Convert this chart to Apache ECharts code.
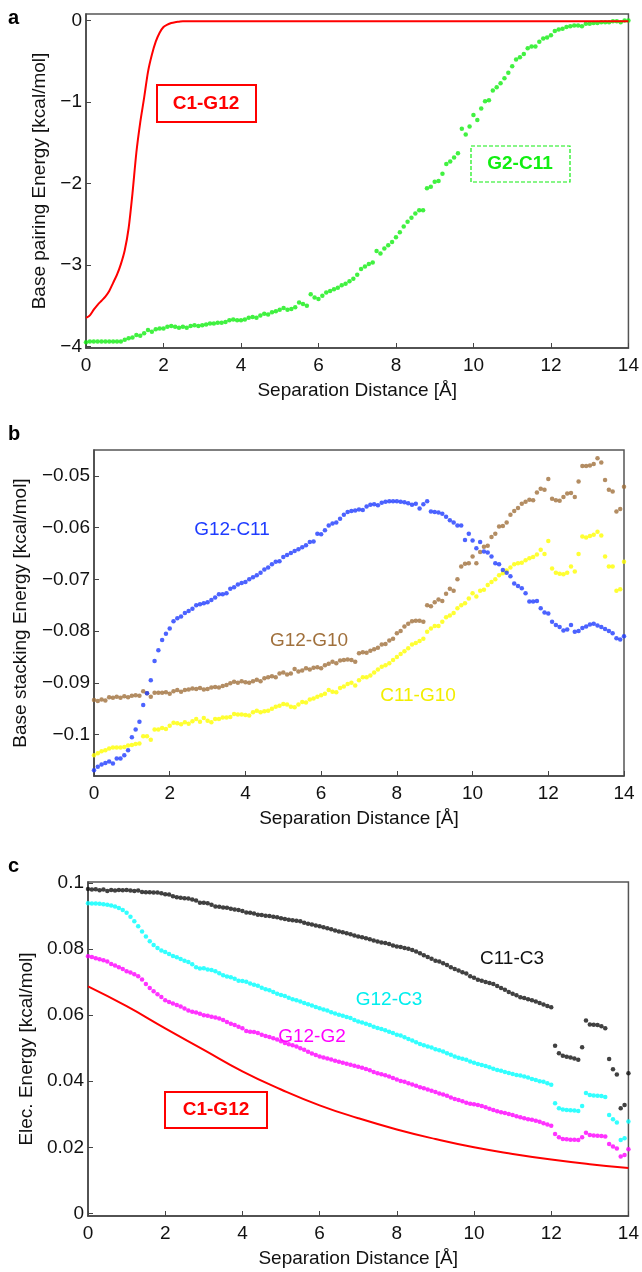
<!DOCTYPE html>
<html>
<head>
<meta charset="utf-8">
<script src="https://cdn.jsdelivr.net/npm/echarts/dist/echarts.min.js"></script>
<style>
  html, body { margin: 0; padding: 0; background: #fff; }
  #chart { width: 642px; height: 1272px; }
</style>
</head>
<body>
<div id="chart"></div>
<script>
// separation distance grid, 0.1 A steps
const dist = [];
for (let i = 0; i <= 140; i++) dist.push(+(i / 10).toFixed(1));

const distTicks = [0, 2, 4, 6, 8, 10, 12, 14];

// panel a: base pairing energy
const pairTicks = [-4, -3, -2, -1, 0];
const pairDistC1G12 = [0, 0.1, 0.2, 0.3, 0.4, 0.5, 0.6, 0.7, 0.8, 0.9, 1.0, 1.1, 1.2, 1.3, 1.4, 1.5, 1.6, 1.7, 1.8, 1.9,
  2.0, 2.1, 2.2, 2.3, 2.4, 2.5, 2.6, 3, 4, 5, 6, 7, 8, 9, 10, 11, 12, 13, 14];
const pairC1G12 = [-3.65, -3.62, -3.55, -3.49, -3.44, -3.39, -3.32, -3.22, -3.12, -2.99,
  -2.82, -2.55, -2.12, -1.62, -1.25, -0.95, -0.63, -0.42, -0.26, -0.15,
  -0.08, -0.05, -0.03, -0.02, -0.015, -0.01, -0.01, -0.01, -0.01, -0.01, -0.01, -0.01, -0.01, -0.01,
  -0.01, -0.01, -0.01, -0.01, -0.01];
const pairG2C11 = [
  -3.95, -3.94, -3.94, -3.94, -3.94, -3.94, -3.94, -3.94, -3.94, -3.94,
  -3.92, -3.90, -3.89, -3.86, -3.87, -3.84, -3.80, -3.82, -3.79, -3.78,
  -3.78, -3.76, -3.75, -3.76, -3.77, -3.76, -3.77, -3.75, -3.74, -3.75,
  -3.74, -3.73, -3.72, -3.72, -3.71, -3.71, -3.70, -3.68, -3.67, -3.68,
  -3.68, -3.67, -3.65, -3.64, -3.65, -3.62, -3.60, -3.61, -3.58, -3.57,
  -3.55, -3.53, -3.55, -3.54, -3.52, -3.46, -3.48, -3.50, -3.36, -3.40,
  -3.42, -3.38, -3.34, -3.32, -3.30, -3.28, -3.25, -3.23, -3.20, -3.17,
  -3.12, -3.05, -3.02, -2.99, -2.97, -2.83, -2.86, -2.80, -2.76, -2.72,
  -2.66, -2.60, -2.53, -2.47, -2.42, -2.37, -2.33, -2.33, -2.06, -2.04,
  -1.98, -1.97, -1.88, -1.76, -1.73, -1.68, -1.63, -1.33, -1.40, -1.30,
  -1.16, -1.22, -1.08, -0.99, -0.98, -0.86, -0.82, -0.77, -0.71, -0.64,
  -0.56, -0.48, -0.45, -0.41, -0.34, -0.32, -0.32, -0.26, -0.22, -0.21,
  -0.18, -0.13, -0.11, -0.10, -0.08, -0.07, -0.06, -0.06, -0.07, -0.04,
  -0.04, -0.03, -0.03, -0.02, -0.02, -0.02, -0.01, -0.01, -0.02, 0.00,
  0.00];

// panel b: base stacking energy
const stackTicks = [-0.1, -0.09, -0.08, -0.07, -0.06, -0.05];
const stackG12C11 = [
  -0.1069, -0.1062, -0.1058, -0.1055, -0.1052, -0.1056, -0.1046, -0.1046, -0.1040, -0.1030,
  -0.1005, -0.0990, -0.0975, -0.0943, -0.0920, -0.0895, -0.0858, -0.0837, -0.0817, -0.0805,
  -0.0795, -0.0781, -0.0775, -0.0772, -0.0765, -0.0761, -0.0757, -0.0750, -0.0748, -0.0746,
  -0.0744, -0.0740, -0.0735, -0.0729, -0.0729, -0.0727, -0.0718, -0.0715, -0.0710, -0.0707,
  -0.0705, -0.0700, -0.0696, -0.0692, -0.0687, -0.0681, -0.0677, -0.0671, -0.0666, -0.0665,
  -0.0657, -0.0653, -0.0649, -0.0645, -0.0642, -0.0638, -0.0634, -0.0628, -0.0627, -0.0612,
  -0.0613, -0.0605, -0.0596, -0.0592, -0.0590, -0.0583, -0.0575, -0.0570, -0.0568, -0.0567,
  -0.0565, -0.0566, -0.0559, -0.0556, -0.0555, -0.0557, -0.0552, -0.0550, -0.0549, -0.0549,
  -0.0549, -0.0550, -0.0551, -0.0553, -0.0556, -0.0554, -0.0563, -0.0555, -0.0549, -0.0569,
  -0.0570, -0.0571, -0.0573, -0.0579, -0.0586, -0.0590, -0.0596, -0.0596, -0.0624, -0.0612,
  -0.0625, -0.0640, -0.0628, -0.0646, -0.0648, -0.0656, -0.0669, -0.0671, -0.0682, -0.0687,
  -0.0694, -0.0708, -0.0713, -0.0717, -0.0727, -0.0743, -0.0743, -0.0742, -0.0756, -0.0764,
  -0.0766, -0.0782, -0.0788, -0.0792, -0.0799, -0.0797, -0.0788, -0.0801, -0.0800, -0.0794,
  -0.0791, -0.0787, -0.0786, -0.0789, -0.0792, -0.0796, -0.0800, -0.0804, -0.0814, -0.0816,
  -0.0810];
const stackG12G10 = [
  -0.0933, -0.0935, -0.0932, -0.0934, -0.0928, -0.0929, -0.0927, -0.0929, -0.0926, -0.0928,
  -0.0925, -0.0924, -0.0925, -0.0916, -0.0920, -0.0927, -0.0919, -0.0919, -0.0919, -0.0918,
  -0.0921, -0.0916, -0.0914, -0.0917, -0.0914, -0.0913, -0.0911, -0.0912, -0.0910, -0.0913,
  -0.0912, -0.0909, -0.0908, -0.0909, -0.0906, -0.0904, -0.0901, -0.0898, -0.0900, -0.0897,
  -0.0899, -0.0900, -0.0897, -0.0894, -0.0897, -0.0891, -0.0889, -0.0887, -0.0889, -0.0882,
  -0.0880, -0.0884, -0.0882, -0.0873, -0.0878, -0.0876, -0.0872, -0.0874, -0.0871, -0.0870,
  -0.0872, -0.0866, -0.0863, -0.0859, -0.0862, -0.0857, -0.0856, -0.0855, -0.0856, -0.0859,
  -0.0843, -0.0841, -0.0842, -0.0838, -0.0835, -0.0832, -0.0826, -0.0825, -0.0818, -0.0815,
  -0.0804, -0.0800, -0.0791, -0.0786, -0.0781, -0.0780, -0.0780, -0.0782, -0.0750, -0.0752,
  -0.0744, -0.0739, -0.0742, -0.0728, -0.0718, -0.0722, -0.0700, -0.0675, -0.0670, -0.0669,
  -0.0656, -0.0669, -0.0647, -0.0637, -0.0635, -0.0618, -0.0612, -0.0598, -0.0597, -0.0590,
  -0.0575, -0.0568, -0.0562, -0.0554, -0.0550, -0.0546, -0.0547, -0.0532, -0.0525, -0.0527,
  -0.0506, -0.0544, -0.0547, -0.0548, -0.0541, -0.0534, -0.0533, -0.0541, -0.0511, -0.0481,
  -0.0481, -0.0480, -0.0477, -0.0466, -0.0474, -0.0508, -0.0527, -0.0530, -0.0569, -0.0564,
  -0.0521];
const stackC11G10 = [
  -0.1040, -0.1036, -0.1032, -0.1030, -0.1027, -0.1025, -0.1025, -0.1025, -0.1024, -0.1021,
  -0.1020, -0.1018, -0.1017, -0.1003, -0.1003, -0.1010, -0.0990, -0.0990, -0.0987, -0.0989,
  -0.0983, -0.0977, -0.0978, -0.0980, -0.0976, -0.0979, -0.0974, -0.0970, -0.0975, -0.0968,
  -0.0973, -0.0976, -0.0970, -0.0970, -0.0967, -0.0967, -0.0966, -0.0960, -0.0961, -0.0961,
  -0.0962, -0.0963, -0.0957, -0.0954, -0.0957, -0.0955, -0.0954, -0.0950, -0.0946, -0.0944,
  -0.0941, -0.0942, -0.0946, -0.0947, -0.0942, -0.0937, -0.0938, -0.0932, -0.0930, -0.0927,
  -0.0924, -0.0921, -0.0914, -0.0917, -0.0918, -0.0910, -0.0907, -0.0902, -0.0900, -0.0905,
  -0.0895, -0.0889, -0.0889, -0.0886, -0.0880, -0.0874, -0.0869, -0.0866, -0.0862, -0.0856,
  -0.0850, -0.0844, -0.0839, -0.0833, -0.0826, -0.0823, -0.0819, -0.0815, -0.0801, -0.0795,
  -0.0790, -0.0790, -0.0782, -0.0773, -0.0770, -0.0765, -0.0756, -0.0750, -0.0746, -0.0737,
  -0.0727, -0.0733, -0.0722, -0.0720, -0.0711, -0.0705, -0.0700, -0.0692, -0.0688, -0.0683,
  -0.0677, -0.0671, -0.0669, -0.0668, -0.0663, -0.0659, -0.0657, -0.0652, -0.0643, -0.0651,
  -0.0626, -0.0679, -0.0687, -0.0689, -0.0690, -0.0687, -0.0675, -0.0685, -0.0651, -0.0617,
  -0.0619, -0.0616, -0.0614, -0.0608, -0.0615, -0.0656, -0.0675, -0.0675, -0.0722, -0.0719,
  -0.0666];

// panel c: electrostatic energy
const elecTicks = [0, 0.02, 0.04, 0.06, 0.08, 0.1];
const elecC11C3 = [
  0.0982, 0.0980, 0.0981, 0.0978, 0.0980, 0.0976, 0.0979, 0.0977, 0.0979, 0.0978,
  0.0979, 0.0977, 0.0976, 0.0977, 0.0973, 0.0972, 0.0972, 0.0971, 0.0971, 0.0969,
  0.0966, 0.0965, 0.0960, 0.0957, 0.0955, 0.0954, 0.0953, 0.0950, 0.0947, 0.0940,
  0.0940, 0.0939, 0.0934, 0.0929, 0.0928, 0.0926, 0.0925, 0.0922, 0.0920, 0.0918,
  0.0915, 0.0911, 0.0910, 0.0908, 0.0904, 0.0903, 0.0901, 0.0900, 0.0898, 0.0896,
  0.0893, 0.0891, 0.0889, 0.0887, 0.0886, 0.0884, 0.0880, 0.0877, 0.0874, 0.0871,
  0.0869, 0.0866, 0.0863, 0.0860, 0.0856, 0.0853, 0.0851, 0.0848, 0.0845, 0.0841,
  0.0838, 0.0836, 0.0833, 0.0830, 0.0826, 0.0823, 0.0820, 0.0818, 0.0815, 0.0811,
  0.0808, 0.0806, 0.0803, 0.0801, 0.0797, 0.0793, 0.0787, 0.0781, 0.0776, 0.0771,
  0.0765, 0.0762, 0.0757, 0.0752, 0.0745, 0.0740, 0.0735, 0.0730, 0.0726, 0.0718,
  0.0713, 0.0707, 0.0704, 0.0700, 0.0697, 0.0694, 0.0688, 0.0682, 0.0677, 0.0670,
  0.0665, 0.0660, 0.0654, 0.0652, 0.0648, 0.0645, 0.0641, 0.0637, 0.0632, 0.0628,
  0.0624, 0.0507, 0.0485, 0.0477, 0.0474, 0.0472, 0.0469, 0.0465, 0.0503, 0.0584,
  0.0572, 0.0571, 0.0570, 0.0566, 0.0560, 0.0467, 0.0436, 0.0420, 0.0318, 0.0328,
  0.0424];
const elecG12C3 = [
  0.0939, 0.0938, 0.0938, 0.0937, 0.0936, 0.0934, 0.0932, 0.0929, 0.0924, 0.0918,
  0.0910, 0.0898, 0.0884, 0.0869, 0.0853, 0.0838, 0.0824, 0.0812, 0.0803, 0.0796,
  0.0791, 0.0785, 0.0779, 0.0775, 0.0770, 0.0765, 0.0761, 0.0754, 0.0745, 0.0741,
  0.0742, 0.0738, 0.0737, 0.0733, 0.0727, 0.0721, 0.0717, 0.0715, 0.0710, 0.0704,
  0.0703, 0.0701, 0.0696, 0.0692, 0.0689, 0.0683, 0.0678, 0.0675, 0.0670, 0.0665,
  0.0661, 0.0658, 0.0653, 0.0648, 0.0645, 0.0641, 0.0637, 0.0633, 0.0629, 0.0625,
  0.0621, 0.0617, 0.0614, 0.0609, 0.0605, 0.0601, 0.0598, 0.0594, 0.0591, 0.0585,
  0.0581, 0.0578, 0.0574, 0.0570, 0.0565, 0.0561, 0.0558, 0.0554, 0.0550, 0.0546,
  0.0541, 0.0538, 0.0533, 0.0528, 0.0523, 0.0518, 0.0513, 0.0509, 0.0505, 0.0502,
  0.0497, 0.0494, 0.0490, 0.0485, 0.0480, 0.0475, 0.0471, 0.0468, 0.0465, 0.0460,
  0.0456, 0.0452, 0.0449, 0.0446, 0.0442, 0.0438, 0.0434, 0.0432, 0.0428, 0.0425,
  0.0422, 0.0419, 0.0417, 0.0414, 0.0411, 0.0407, 0.0404, 0.0400, 0.0398, 0.0394,
  0.0389, 0.0333, 0.0318, 0.0314, 0.0313, 0.0312, 0.0311, 0.0310, 0.0325, 0.0364,
  0.0358, 0.0357, 0.0356, 0.0355, 0.0352, 0.0298, 0.0285, 0.0275, 0.0222, 0.0227,
  0.0278];
const elecG12G2 = [
  0.0778, 0.0776, 0.0772, 0.0769, 0.0766, 0.0762, 0.0755, 0.0750, 0.0745, 0.0740,
  0.0733, 0.0729, 0.0724, 0.0718, 0.0708, 0.0694, 0.0682, 0.0672, 0.0663, 0.0655,
  0.0645, 0.0640, 0.0635, 0.0631, 0.0626, 0.0620, 0.0614, 0.0610, 0.0608, 0.0604,
  0.0600, 0.0598, 0.0595, 0.0593, 0.0590, 0.0585, 0.0579, 0.0574, 0.0570, 0.0565,
  0.0560, 0.0552, 0.0550, 0.0549, 0.0546, 0.0541, 0.0537, 0.0534, 0.0530, 0.0526,
  0.0521, 0.0516, 0.0512, 0.0509, 0.0505, 0.0500, 0.0495, 0.0489, 0.0484, 0.0479,
  0.0475, 0.0472, 0.0469, 0.0466, 0.0462, 0.0459, 0.0456, 0.0453, 0.0450, 0.0447,
  0.0444, 0.0441, 0.0437, 0.0433, 0.0428, 0.0424, 0.0421, 0.0418, 0.0414, 0.0410,
  0.0405, 0.0401, 0.0398, 0.0394, 0.0390, 0.0386, 0.0382, 0.0379, 0.0375, 0.0371,
  0.0367, 0.0363, 0.0360, 0.0356, 0.0351, 0.0346, 0.0343, 0.0339, 0.0335, 0.0332,
  0.0330, 0.0328, 0.0325, 0.0321, 0.0317, 0.0313, 0.0309, 0.0306, 0.0304, 0.0301,
  0.0298, 0.0294, 0.0291, 0.0288, 0.0285, 0.0283, 0.0280, 0.0277, 0.0273, 0.0269,
  0.0265, 0.0240, 0.0230, 0.0225, 0.0224, 0.0223, 0.0223, 0.0222, 0.0230, 0.0244,
  0.0237, 0.0236, 0.0235, 0.0234, 0.0233, 0.0210, 0.0202, 0.0196, 0.0172, 0.0177,
  0.0194];
const elecDistC1G12 = [0, 1, 2, 3, 4, 5, 6, 7, 8, 9, 10, 11, 12, 13, 14];
const elecC1G12 = [0.0687, 0.0627, 0.0560, 0.0495, 0.0430, 0.0375, 0.0327, 0.0288, 0.0254, 0.0225,
  0.0200, 0.0180, 0.0163, 0.0149, 0.0137];

const FONT = '"Liberation Sans", Arial, sans-serif';
const minus = v => String(v).replace('-', '\u2212');
const pts = ys => dist.map((x, i) => [x, ys[i]]);
const zipXY = (xs, ys) => xs.map((x, i) => [x, ys[i]]);

function xAxisFor(gridIndex) {
  return {
    type: 'value', gridIndex, min: 0, max: 14,
    name: 'Separation Distance [Å]', nameLocation: 'middle', nameGap: 33,
    nameTextStyle: { fontFamily: FONT, fontSize: 19, color: '#111' },
    axisLine: { show: true, onZero: false, lineStyle: { color: '#444', width: 1.5 } },
    axisTick: { show: true, inside: true, length: 5, customValues: distTicks, lineStyle: { color: '#444' } },
    axisLabel: { customValues: distTicks, fontFamily: FONT, fontSize: 19, color: '#111', margin: 8 },
    splitLine: { show: false }
  };
}

function yAxisFor(gridIndex, min, max, ticks, name, gap) {
  return {
    type: 'value', gridIndex, min, max,
    name, nameLocation: 'middle', nameGap: gap,
    nameTextStyle: { fontFamily: FONT, fontSize: 19, color: '#111' },
    axisLine: { show: true, onZero: false, lineStyle: { color: '#444', width: 1.5 } },
    axisTick: { show: true, inside: true, length: 5, customValues: ticks, lineStyle: { color: '#444' } },
    axisLabel: { customValues: ticks, fontFamily: FONT, fontSize: 19, color: '#111', margin: 4, formatter: minus },
    splitLine: { show: false }
  };
}

function dots(name, xi, yi, data, color) {
  return {
    name, type: 'scatter', xAxisIndex: xi, yAxisIndex: yi, data,
    symbol: 'circle', symbolSize: 4.5, itemStyle: { color }, silent: true
  };
}

function curve(name, xi, yi, data, smooth) {
  return {
    name, type: 'line', xAxisIndex: xi, yAxisIndex: yi, data,
    smooth, showSymbol: false,
    lineStyle: { color: '#ff0000', width: 2 }, silent: true
  };
}

function label(x, y, text, color, bold) {
  return {
    type: 'text', x, y,
    style: { text, fill: color, font: (bold ? 'bold ' : '') + '19px ' + FONT, textAlign: 'center', textVerticalAlign: 'middle' }
  };
}

function box(x, y, w, h, color, dashed) {
  return {
    type: 'rect', shape: { x, y, width: w, height: h },
    style: { fill: '#fff', stroke: color, lineWidth: dashed ? 1.2 : 2, lineDash: dashed ? [4, 2] : null }
  };
}

const frame = { show: true, borderColor: '#555', borderWidth: 1.5, backgroundColor: 'transparent' };

const chart = echarts.init(document.getElementById('chart'));
chart.setOption({
  backgroundColor: '#fff',
  animation: false,
  grid: [
    Object.assign({ left: 86, top: 14, width: 545, height: 334 }, frame),
    Object.assign({ left: 94, top: 450, width: 530, height: 326 }, frame),
    Object.assign({ left: 88, top: 882, width: 543, height: 334 }, frame)
  ],
  xAxis: [xAxisFor(0), xAxisFor(1), xAxisFor(2)],
  yAxis: [
    yAxisFor(0, -4.02, 0.08, pairTicks, 'Base pairing Energy [kcal/mol]', 36),
    yAxisFor(1, -0.108, -0.045, stackTicks, 'Base stacking Energy [kcal/mol]', 64),
    yAxisFor(2, -0.0008, 0.1003, elecTicks, 'Elec. Energy [kcal/mol]', 52)
  ],
  series: [
    curve('C1-G12', 0, 0, zipXY(pairDistC1G12, pairC1G12), 0.25),
    dots('G2-C11', 0, 0, pts(pairG2C11), '#11ee11'),
    dots('G12-G10', 1, 1, pts(stackG12G10), '#a0703c'),
    dots('C11-G10', 1, 1, pts(stackC11G10), '#ffff00'),
    dots('G12-C11', 1, 1, pts(stackG12C11), '#1f3cff'),
    dots('C11-C3', 2, 2, pts(elecC11C3), '#111111'),
    dots('G12-C3', 2, 2, pts(elecG12C3), '#00ffff'),
    dots('G12-G2', 2, 2, pts(elecG12G2), '#ff00ff'),
    curve('C1-G12 elec', 2, 2, zipXY(elecDistC1G12, elecC1G12), 0.5)
  ],
  graphic: [
    { type: 'text', x: 8, y: 8, style: { text: 'a', fill: '#000', font: 'bold 20px ' + FONT } },
    { type: 'text', x: 8, y: 424, style: { text: 'b', fill: '#000', font: 'bold 20px ' + FONT } },
    { type: 'text', x: 8, y: 856, style: { text: 'c', fill: '#000', font: 'bold 20px ' + FONT } },
    box(157, 85, 99, 37, '#ff0000', false),
    label(206, 104, 'C1-G12', '#ff0000', true),
    box(471, 146, 99, 36, '#11ee11', true),
    label(520, 164, 'G2-C11', '#11ee11', true),
    label(232, 530, 'G12-C11', '#1f3cff', false),
    label(309, 641, 'G12-G10', '#a0703c', false),
    label(418, 696, 'C11-G10', '#f2ee00', false),
    label(512, 959, 'C11-C3', '#111111', false),
    label(389, 1000, 'G12-C3', '#00eeee', false),
    label(312, 1037, 'G12-G2', '#ff00ff', false),
    box(165, 1092, 102, 36, '#ff0000', false),
    label(216, 1110, 'C1-G12', '#ff0000', true)
  ]
});
window.addEventListener('resize', () => chart.resize());
</script>
</body>
</html>
